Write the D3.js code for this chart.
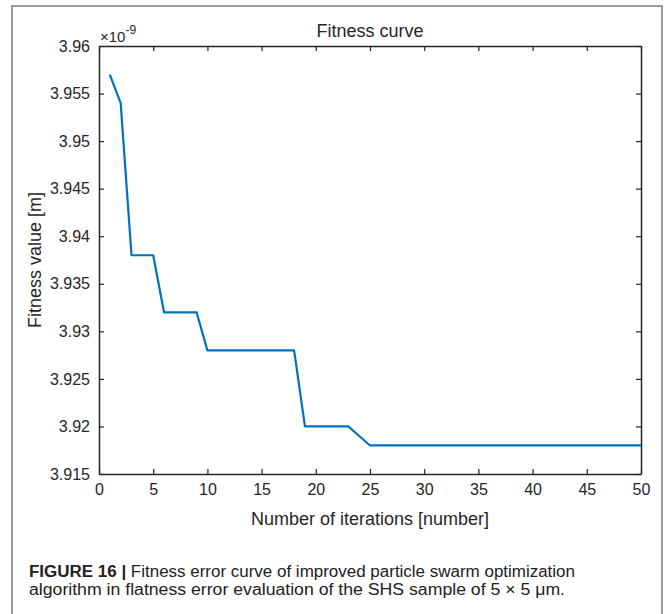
<!DOCTYPE html>
<html>
<head>
<meta charset="utf-8">
<script src="https://cdn.jsdelivr.net/npm/d3@7"></script>
<style>
  body { margin: 0; background: #fff; }
  svg { display: block; }
  text { font-family: "Liberation Sans", Arial, sans-serif; fill: #262626; }
</style>
</head>
<body>
<div id="chart"></div>
<script>
// fitness values are in units of 1e-9 m (the axis shows a x10^-9 multiplier)
const iterations = [1, 2, 3, 4, 5, 6, 7, 8, 9, 10,
  11, 12, 13, 14, 15, 16, 17, 18, 19, 20,
  21, 22, 23, 24, 25, 26, 27, 28, 29, 30,
  31, 32, 33, 34, 35, 36, 37, 38, 39, 40,
  41, 42, 43, 44, 45, 46, 47, 48, 49, 50];
const fitness = [3.957, 3.954, 3.938, 3.938, 3.938, 3.932, 3.932, 3.932, 3.932, 3.928,
  3.928, 3.928, 3.928, 3.928, 3.928, 3.928, 3.928, 3.928, 3.920, 3.920,
  3.920, 3.920, 3.920, 3.919, 3.918, 3.918, 3.918, 3.918, 3.918, 3.918,
  3.918, 3.918, 3.918, 3.918, 3.918, 3.918, 3.918, 3.918, 3.918, 3.918,
  3.918, 3.918, 3.918, 3.918, 3.918, 3.918, 3.918, 3.918, 3.918, 3.918];
const xTicks = [0, 5, 10, 15, 20, 25, 30, 35, 40, 45, 50];
const yTicks = [3.915, 3.92, 3.925, 3.93, 3.935, 3.94, 3.945, 3.95, 3.955, 3.96];

const WIDTH = 665;
const HEIGHT = 614;
const plot = {left: 99, right: 641, top: 46, bottom: 474};
const AXIS_COLOR = '#262626';
const LINE_COLOR = '#0072BD';

const svg = d3.select('#chart').append('svg')
  .attr('width', WIDTH)
  .attr('height', HEIGHT);

svg.append('rect').attr('width', WIDTH).attr('height', HEIGHT).attr('fill', '#fff');

// outer figure frame
svg.append('path')
  .attr('d', `M12,${HEIGHT + 5}V6H662V${HEIGHT + 5}`)
  .attr('fill', 'none')
  .attr('stroke', '#9a9a9a')
  .attr('stroke-width', 2);

const x = d3.scaleLinear().domain([0, 50]).range([plot.left, plot.right]);
const y = d3.scaleLinear().domain([3.915, 3.96]).range([plot.bottom, plot.top]);

const fmtY = d => String(+d.toFixed(3));

function styleAxis(g) {
  g.select('.domain').attr('stroke', AXIS_COLOR).attr('stroke-width', 1.5);
  g.selectAll('.tick line').attr('stroke', AXIS_COLOR).attr('stroke-width', 1.2);
  g.selectAll('.tick text')
    .attr('fill', AXIS_COLOR)
    .style('font-family', '"Liberation Sans", Arial, sans-serif')
    .style('font-size', '16px');
}

// top and right box edges with inward ticks, no labels
svg.append('g')
  .attr('transform', `translate(0,${plot.top})`)
  .call(d3.axisTop(x).tickValues(xTicks).tickSizeInner(-5).tickSizeOuter(0).tickFormat(''))
  .call(styleAxis);
svg.append('g')
  .attr('transform', `translate(${plot.right},0)`)
  .call(d3.axisRight(y).tickValues(yTicks).tickSizeInner(-5).tickSizeOuter(0).tickFormat(''))
  .call(styleAxis);

svg.append('g')
  .attr('transform', `translate(0,${plot.bottom})`)
  .call(d3.axisBottom(x).tickValues(xTicks).tickSizeInner(-5).tickSizeOuter(0).tickPadding(10))
  .call(styleAxis);
svg.append('g')
  .attr('transform', `translate(${plot.left},0)`)
  .call(d3.axisLeft(y).tickValues(yTicks).tickFormat(fmtY).tickSizeInner(-5).tickSizeOuter(0).tickPadding(9))
  .call(styleAxis);

const line = d3.line()
  .x((d, i) => x(iterations[i]))
  .y(d => y(d));

svg.append('path')
  .datum(fitness)
  .attr('d', line)
  .attr('fill', 'none')
  .attr('stroke', LINE_COLOR)
  .attr('stroke-width', 2.2)
  .attr('stroke-linejoin', 'round');

// title and axis labels
svg.append('text')
  .attr('x', (plot.left + plot.right) / 2)
  .attr('y', 37)
  .attr('text-anchor', 'middle')
  .style('font-size', '18px')
  .text('Fitness curve');

const mult = svg.append('text')
  .attr('x', 100)
  .attr('y', 42)
  .style('font-size', '15px');
mult.append('tspan').text('\u00d710');
mult.append('tspan').attr('dy', -8).style('font-size', '12px').text('-9');

svg.append('text')
  .attr('x', (plot.left + plot.right) / 2)
  .attr('y', 525)
  .attr('text-anchor', 'middle')
  .style('font-size', '18px')
  .text('Number of iterations [number]');

svg.append('text')
  .attr('transform', `translate(41,${(plot.top + plot.bottom) / 2}) rotate(-90)`)
  .attr('text-anchor', 'middle')
  .style('font-size', '18px')
  .text('Fitness value [m]');

// caption
const cap1 = svg.append('text')
  .attr('x', 29)
  .attr('y', 577)
  .attr('textLength', 546)
  .attr('lengthAdjust', 'spacingAndGlyphs')
  .style('font-size', '16px')
  .style('fill', '#222');
cap1.append('tspan').style('font-weight', 'bold').text('FIGURE 16 | ');
cap1.append('tspan').text('Fitness error curve of improved particle swarm optimization');

svg.append('text')
  .attr('x', 29)
  .attr('y', 595)
  .attr('textLength', 536)
  .attr('lengthAdjust', 'spacingAndGlyphs')
  .style('font-size', '16px')
  .style('fill', '#222')
  .text('algorithm in flatness error evaluation of the SHS sample of 5 \u00d7 5 \u03bcm.');
</script>
</body>
</html>
